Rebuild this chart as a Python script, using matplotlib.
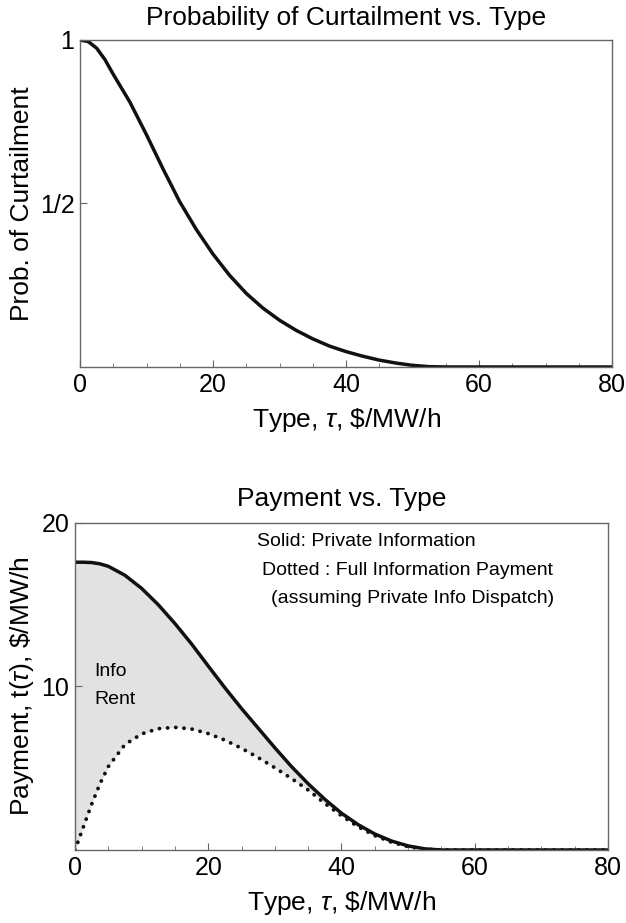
import matplotlib
matplotlib.use("Agg")
import matplotlib.pyplot as plt

plt.rcParams['font.family'] = ['Liberation Sans', 'DejaVu Sans']
plt.rcParams['mathtext.fontset'] = 'custom'
plt.rcParams['mathtext.rm'] = 'Liberation Sans'
plt.rcParams['mathtext.it'] = 'Liberation Sans:italic'

# type grid ($/MW/h) shared by both panels
tau = [0, 1.25, 2.5, 3.75, 5, 7.5, 10, 12.5, 15, 17.5, 20, 22.5, 25, 27.5,
       30, 32.5, 35, 37.5, 40, 42.5, 45, 47.5, 50, 52.5, 55, 80]

# probability of curtailment
prob = [1.0, 0.995, 0.975, 0.94, 0.895, 0.81, 0.71, 0.605, 0.505, 0.42,
        0.345, 0.28, 0.225, 0.18, 0.143, 0.112, 0.086, 0.064, 0.047, 0.033,
        0.021, 0.012, 0.005, 0.001, 0.0, 0.0]

# payment under private information (solid)
pay_private = [17.6, 17.6, 17.58, 17.5, 17.35, 16.8, 16.0, 15.0, 13.85, 12.6,
               11.25, 9.92, 8.65, 7.45, 6.25, 5.1, 4.05, 3.1, 2.25, 1.55,
               0.98, 0.55, 0.25, 0.07, 0.0, 0.0]

# full information payment (dotted)
pay_full = [0.0, 1.4, 2.8, 4.05, 5.1, 6.45, 7.1, 7.42, 7.5, 7.4, 7.12, 6.72,
            6.22, 5.65, 5.03, 4.37, 3.67, 2.85, 2.1, 1.42, 0.88, 0.48, 0.2,
            0.05, 0.0, 0.0]

x_ticks = [0, 20, 40, 60, 80]
x_minor = list(range(0, 81, 5))

fig = plt.figure(figsize=(6.26, 9.23), dpi=100)
ax1 = fig.add_axes([0.1278, 0.6024, 0.850, 0.3543])
ax2 = fig.add_axes([0.1198, 0.0791, 0.8514, 0.3543])


def style_axes(ax):
    for s in ax.spines.values():
        s.set_color('#666666')
        s.set_linewidth(1.0)
    ax.set_xlim(0, 80)
    ax.set_xticks(x_ticks)
    ax.set_xticks(x_minor, minor=True)
    ax.tick_params(which='both', direction='in', top=False, right=False,
                   color='#666666', labelsize=18, pad=4)
    ax.tick_params(which='major', length=5)
    ax.tick_params(which='minor', length=3)
    ax.set_xlabel(r'Type, $\tau$, \$/MW/h', fontsize=19, labelpad=7)


# --- probability panel ---
ax1.plot(tau, prob, color='#111111', lw=2.5)
style_axes(ax1)
ax1.set_ylim(0, 1)
ax1.set_yticks([0.5, 1.0])
ax1.set_yticklabels(['1/2', '1'])
ax1.set_ylabel('Prob. of Curtailment', fontsize=19, labelpad=4)
ax1.set_title('Probability of Curtailment vs. Type', fontsize=19, pad=11)

# --- payment panel ---
ax2.fill_between(tau, pay_full, pay_private, color='#e2e2e2', lw=0)
ax2.plot(tau, pay_private, color='#111111', lw=2.5)
ax2.plot(tau, pay_full, color='#111111', lw=2.8,
         linestyle=(0, (0.01, 2.1)), dash_capstyle='round')
style_axes(ax2)
ax2.set_ylim(0, 20)
ax2.set_yticks([10, 20])
ax2.set_ylabel(r'Payment, t($\tau$), \$/MW/h', fontsize=19, labelpad=4)
ax2.set_title('Payment vs. Type', fontsize=19, pad=12)

ax2.text(27.3, 18.85, 'Solid: Private Information', fontsize=14, va='center')
ax2.text(28.0, 17.1, 'Dotted : Full Information Payment', fontsize=14, va='center')
ax2.text(29.4, 15.4, '(assuming Private Info Dispatch)', fontsize=14, va='center')
ax2.text(2.9, 10.9, 'Info', fontsize=14, va='center')
ax2.text(2.9, 9.2, 'Rent', fontsize=14, va='center')

fig.savefig('out.png', dpi=100)
